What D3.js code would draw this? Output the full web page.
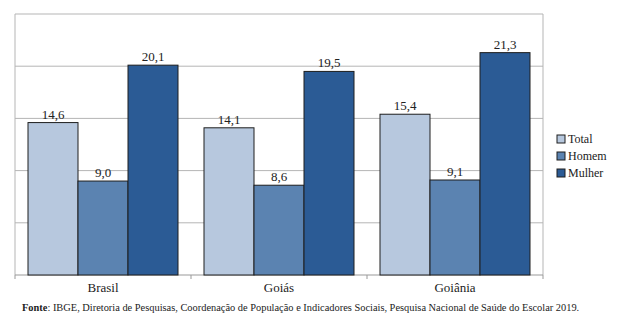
<!DOCTYPE html>
<html>
<head>
<meta charset="utf-8">
<script src="https://cdn.jsdelivr.net/npm/d3@7"></script>
<style>
  body { margin: 0; background: #fff; }
  svg text { font-family: "Liberation Serif", "DejaVu Serif", serif; fill: #222; }
</style>
</head>
<body>
<svg id="chart" width="620" height="326"></svg>
<script>
var categories = ["Brasil", "Goiás", "Goiânia"];
var series = ["Total", "Homem", "Mulher"];
var total = [14.6, 14.1, 15.4];
var homem = [9.0, 8.6, 9.1];
var mulher = [20.1, 19.5, 21.3];
var yTicks = [0, 5, 10, 15, 20, 25];
var colors = ["#b7c8de", "#5b83b1", "#2b5b95"];

var values = [total, homem, mulher];
var svg = d3.select("#chart");
var plotLeft = 15, plotRight = 543, plotTop = 14, plotBottom = 275;

var x = d3.scaleBand().domain(categories).range([plotLeft, plotRight]).paddingInner(0).paddingOuter(0);
var xs = d3.scaleBand().domain(series).range([0, x.bandwidth()]).paddingOuter(0.26).paddingInner(0);
var y = d3.scaleLinear().domain([0, 25]).range([plotBottom, plotTop]);

// grid lines
svg.append("g").selectAll("line")
  .data(yTicks.slice(1))
  .join("line")
  .attr("x1", plotLeft).attr("x2", plotRight)
  .attr("y1", d => y(d)).attr("y2", d => y(d))
  .style("stroke", "#b5b5b5").style("stroke-width", 1);

// box sides
svg.append("line").attr("x1", plotLeft).attr("x2", plotLeft).attr("y1", plotTop).attr("y2", plotBottom)
  .style("stroke", "#b5b5b5");
svg.append("line").attr("x1", plotRight).attr("x2", plotRight).attr("y1", plotTop).attr("y2", plotBottom)
  .style("stroke", "#b5b5b5");

// x axis
var xAxis = svg.append("g").attr("transform", "translate(0," + plotBottom + ")");
xAxis.append("line").attr("x1", plotLeft).attr("x2", plotRight).style("stroke", "#999");
xAxis.selectAll("line.tick")
  .data(d3.range(categories.length + 1))
  .join("line")
  .classed("tick", true)
  .attr("x1", i => plotLeft + i * x.step()).attr("x2", i => plotLeft + i * x.step())
  .attr("y1", 0).attr("y2", 4)
  .style("stroke", "#999");
xAxis.selectAll("text")
  .data(categories)
  .join("text")
  .attr("x", d => x(d) + x.bandwidth() / 2)
  .attr("y", 17)
  .attr("text-anchor", "middle")
  .style("font-size", "13px")
  .text(d => d);

// bars
var rows = [];
categories.forEach(function(c, i) {
  series.forEach(function(s, j) {
    rows.push({ cat: c, ser: s, val: values[j][i], color: colors[j] });
  });
});

svg.append("g").selectAll("rect")
  .data(rows)
  .join("rect")
  .attr("x", d => x(d.cat) + xs(d.ser))
  .attr("width", xs.bandwidth())
  .attr("y", d => y(d.val))
  .attr("height", d => plotBottom - y(d.val))
  .style("fill", d => d.color)
  .style("stroke", "#1e1e1e")
  .style("stroke-width", 1);

svg.append("g").selectAll("text")
  .data(rows)
  .join("text")
  .attr("x", d => x(d.cat) + xs(d.ser) + xs.bandwidth() / 2)
  .attr("y", d => y(d.val) - 4)
  .attr("text-anchor", "middle")
  .style("font-size", "13px")
  .text(d => d3.format(".1f")(d.val).replace(".", ","));

// legend
var legend = svg.append("g").attr("transform", "translate(557,135)");
var item = legend.selectAll("g")
  .data(series)
  .join("g")
  .attr("transform", (d, i) => "translate(0," + i * 17 + ")");
item.append("rect")
  .attr("width", 8).attr("height", 8)
  .style("fill", (d, i) => colors[i])
  .style("stroke", "#1e1e1e");
item.append("text")
  .attr("x", 11).attr("y", 8)
  .style("font-size", "12px")
  .text(d => d);

// source note
var note = svg.append("text").attr("x", 22).attr("y", 311).style("font-size", "10.4px");
note.append("tspan").style("font-weight", "bold").text("Fonte");
note.append("tspan").text(": IBGE, Diretoria de Pesquisas, Coordenação de População e Indicadores Sociais, Pesquisa Nacional de Saúde do Escolar 2019.");
</script>
</body>
</html>
